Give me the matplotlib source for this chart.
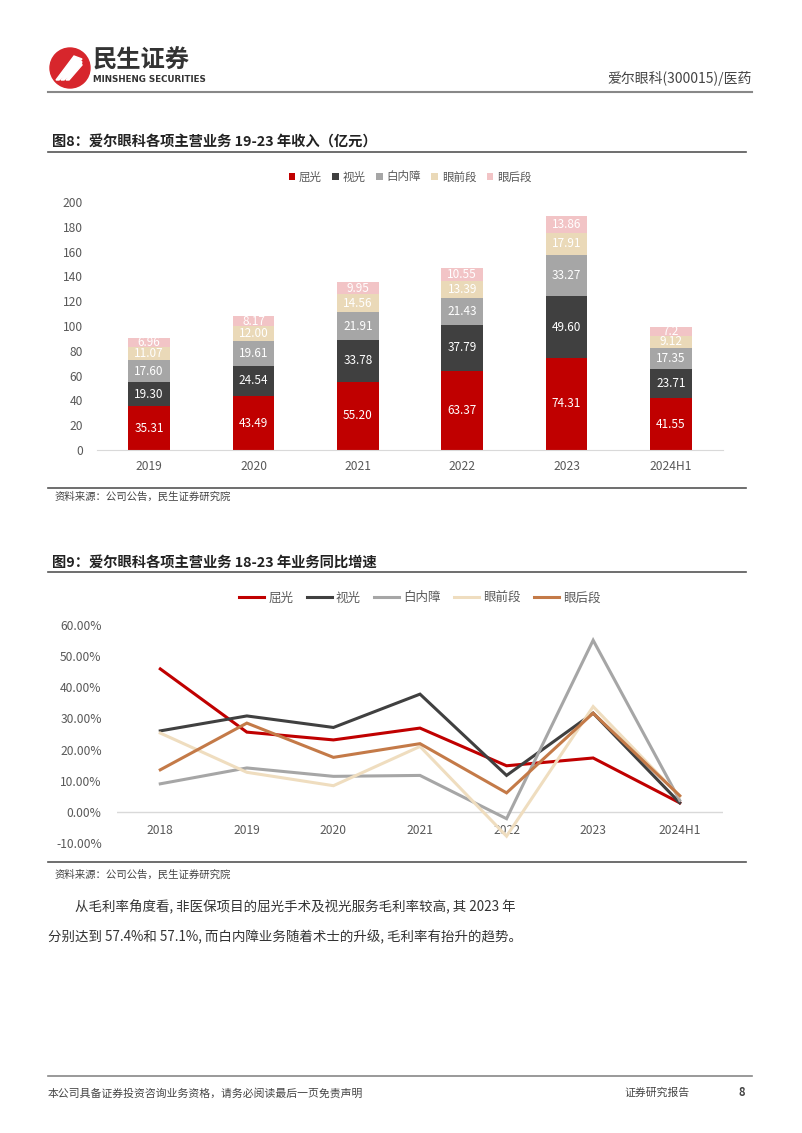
import numpy as np
import matplotlib
matplotlib.use('Agg')
import matplotlib.pyplot as plt
from matplotlib.patches import Circle, Polygon
from matplotlib.lines import Line2D

plt.rcParams['font.family'] = ['Noto Sans CJK SC', 'DejaVu Sans']

# ---- data: 图8 收入 (亿元)
years1 = ['2019', '2020', '2021', '2022', '2023', '2024H1']
seg_names = ['屈光', '视光', '白内障', '眼前段', '眼后段']
qg = [35.31, 43.49, 55.20, 63.37, 74.31, 41.55]
sg = [19.30, 24.54, 33.78, 37.79, 49.60, 23.71]
bnz = [17.60, 19.61, 21.91, 21.43, 33.27, 17.35]
yqd = [11.07, 12.00, 14.56, 13.39, 17.91, 9.12]
yhd = [6.96, 8.17, 9.95, 10.55, 13.86, 7.2]
seg_labels = [
    ['35.31', '43.49', '55.20', '63.37', '74.31', '41.55'],
    ['19.30', '24.54', '33.78', '37.79', '49.60', '23.71'],
    ['17.60', '19.61', '21.91', '21.43', '33.27', '17.35'],
    ['11.07', '12.00', '14.56', '13.39', '17.91', '9.12'],
    ['6.96', '8.17', '9.95', '10.55', '13.86', '7.2'],
]
bar_colors = ['#C00000', '#404040', '#A6A6A6', '#EAD9B8', '#F2C4C6']

# ---- data: 图9 同比增速 (%)
years2 = ['2018', '2019', '2020', '2021', '2022', '2023', '2024H1']
g_qg = [45.9, 25.6, 23.1, 26.9, 14.8, 17.3, 2.9]
g_sg = [26.0, 30.8, 27.1, 37.8, 11.7, 31.7, 2.9]
g_bnz = [9.0, 14.1, 11.4, 11.7, -2.2, 55.1, 3.7]
g_yqd = [25.3, 12.7, 8.4, 21.0, -7.8, 33.8, 5.0]
g_yhd = [13.5, 28.5, 17.5, 21.9, 6.1, 31.7, 5.2]
line_colors = ['#C00000', '#404040', '#A6A6A6', '#EFDDBF', '#C47A48']

W, H = 802, 1133
fig = plt.figure(figsize=(W / 100, H / 100), dpi=100)


def fx(x):
    return x / W


def fy(y):
    return 1 - y / H


def hline(y, x0, x1, color, lw):
    fig.add_artist(Line2D([fx(x0), fx(x1)], [fy(y), fy(y)], color=color, lw=lw,
                          transform=fig.transFigure))


# ---- header
lax = fig.add_axes([fx(48), fy(90), fx(44), 44 / H])
lax.set_xlim(0, 44)
lax.set_ylim(0, 44)
lax.set_aspect('equal')
lax.axis('off')
lax.add_patch(Circle((22, 22), 20, color='#D7262C'))
for k in range(3):
    lax.add_patch(Polygon([(8 + k * 5, 10), (11 + k * 5, 10), (34, 31 - k * 3), (26 + k * 3, 34 - k * 2)],
                          closed=True, color='white'))
fig.text(fx(93), fy(61), '民生证券', fontsize=17.5, fontweight='bold', color='#333333', va='center')
fig.text(fx(93), fy(80), 'MINSHENG SECURITIES', fontsize=6.3, fontweight='bold', color='#333333',
         va='center', family='DejaVu Sans')
fig.text(fx(752), fy(79), '爱尔眼科(300015)/医药', fontsize=10, color='#444444', ha='right', va='center')
hline(92, 48, 752, '#888888', 1.5)

# ---- chart 1 title
fig.text(fx(52), fy(143), '图8：爱尔眼科各项主营业务 19-23 年收入（亿元）', fontsize=10.3,
         fontweight='bold', color='#222222', va='center')
hline(152, 48, 746, '#555555', 1.2)

ax1 = fig.add_axes([fx(97), fy(450), fx(723 - 97), (450 - 202) / H])
x1 = np.arange(len(years1))
series = [qg, sg, bnz, yqd, yhd]
bottom = np.zeros(len(years1))
for i, vals in enumerate(series):
    vals = np.array(vals)
    ax1.bar(x1, vals, width=0.4, bottom=bottom, color=bar_colors[i], label=seg_names[i], zorder=2)
    for j in range(len(years1)):
        ax1.text(x1[j], bottom[j] + vals[j] / 2, seg_labels[i][j], ha='center', va='center',
                 fontsize=8.5, color='white', zorder=3)
    bottom += vals
ax1.set_xlim(-0.5, len(years1) - 0.5)
ax1.set_ylim(0, 200)
ax1.set_yticks(np.arange(0, 201, 20))
ax1.set_xticks(x1)
ax1.set_xticklabels(years1)
for s in ['top', 'right', 'left']:
    ax1.spines[s].set_visible(False)
ax1.spines['bottom'].set_color('#D9D9D9')
ax1.tick_params(axis='both', length=0, labelsize=8.7, colors='#595959')
ax1.tick_params(axis='x', pad=7)
ax1.tick_params(axis='y', pad=10)
ax1.legend(loc='center', bbox_to_anchor=(0.5, 1 + (202 - 177) / 248), ncol=5, frameon=False,
           fontsize=8.3, handlelength=0.6, handleheight=0.6, handletextpad=0.3, columnspacing=0.9,
           labelcolor='#595959')

hline(488, 48, 746, '#555555', 1.2)
fig.text(fx(55), fy(497), '资料来源：公司公告，民生证券研究院', fontsize=7.5, color='#444444', va='center')

# ---- chart 2
fig.text(fx(52), fy(563), '图9：爱尔眼科各项主营业务 18-23 年业务同比增速', fontsize=10.3,
         fontweight='bold', color='#222222', va='center')
hline(572, 48, 746, '#555555', 1.2)

ax2 = fig.add_axes([fx(117), fy(843), fx(723 - 117), (843 - 625) / H])
x2 = np.arange(len(years2))
for vals, name, c in zip([g_qg, g_sg, g_bnz, g_yqd, g_yhd], seg_names, line_colors):
    ax2.plot(x2, vals, color=c, lw=2.2, label=name, solid_joinstyle='miter')
ax2.set_xlim(-0.5, len(years2) - 0.5)
ax2.set_ylim(-10, 60)
ax2.set_yticks(np.arange(-10, 61, 10))
ax2.set_yticklabels(['%.2f%%' % v for v in np.arange(-10, 61, 10)])
ax2.set_xticks(x2)
ax2.set_xticklabels(years2)
for s in ['top', 'right', 'left', 'bottom']:
    ax2.spines[s].set_visible(False)
ax2.axhline(0, color='#D9D9D9', lw=1, zorder=0)
ax2.tick_params(axis='both', length=0, labelsize=8.7, colors='#595959')
ax2.tick_params(axis='x', pad=-14)
ax2.tick_params(axis='y', pad=11)
ax2.legend(loc='center', bbox_to_anchor=(0.5, 1 + (625 - 598) / 218), ncol=5, frameon=False,
           fontsize=9, handlelength=2.0, handletextpad=0.3, columnspacing=1.1, labelcolor='#595959')

hline(862, 48, 746, '#555555', 1.2)
fig.text(fx(55), fy(875), '资料来源：公司公告，民生证券研究院', fontsize=7.5, color='#444444', va='center')

# ---- body text
fig.text(fx(75), fy(907), '从毛利率角度看, 非医保项目的屈光手术及视光服务毛利率较高, 其 2023 年',
         fontsize=9.7, color='#333333', va='center')
fig.text(fx(48), fy(937), '分别达到 57.4%和 57.1%, 而白内障业务随着术士的升级, 毛利率有抬升的趋势。',
         fontsize=9.7, color='#333333', va='center')

# ---- footer
hline(1076, 48, 752, '#888888', 1.2)
fig.text(fx(48), fy(1093), '本公司具备证券投资咨询业务资格，请务必阅读最后一页免责声明', fontsize=7.8,
         color='#444444', va='center')
fig.text(fx(624), fy(1093), '证券研究报告', fontsize=7.8, color='#444444', va='center')
fig.text(fx(742), fy(1093), '8', fontsize=8, fontweight='bold', color='#444444', va='center', ha='center')

fig.savefig('out.png', dpi=100)
